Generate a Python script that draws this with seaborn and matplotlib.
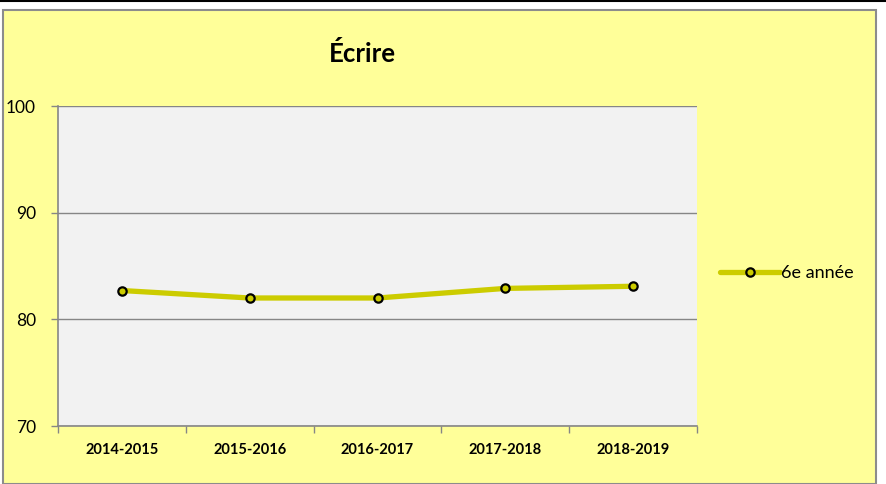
import matplotlib
matplotlib.use("Agg")
import matplotlib.pyplot as plt
import matplotlib.patches as mpatches
import matplotlib.lines as mlines
import seaborn as sns
import pandas as pd

# ===================== Data =====================
years = ["2014-2015", "2015-2016", "2016-2017", "2017-2018", "2018-2019"]
scores_6e = [82.7, 82.0, 82.0, 82.9, 83.1]
series_name = "6e année"
title = "Écrire"

df = pd.DataFrame({"annee": years, "score": scores_6e, "serie": series_name})

# ===================== Style =====================
sns.set_theme(style="white")
plt.rcParams["font.family"] = ["Lato", "DejaVu Sans"]
plt.rcParams["text.color"] = "black"
plt.rcParams["xtick.color"] = "black"
plt.rcParams["ytick.color"] = "black"

YELLOW_BG = "#FFFF99"
PLOT_BG = "#F2F2F2"
LINE_COL = "#CCCC00"
GRID_COL = "#868686"

fig = plt.figure(figsize=(8.86, 4.84), dpi=100)
fig.patch.set_facecolor("white")

# chart frame (yellow area with grey border) and the black line on top
fig.patches.append(mpatches.Rectangle((3 / 886, 0), 873 / 886, 1 - 10 / 484,
                                      transform=fig.transFigure, facecolor=YELLOW_BG,
                                      edgecolor="#8C8C8C", linewidth=1.5, zorder=-5))
fig.lines.append(mlines.Line2D([0, 1], [1 - 1 / 484, 1 - 1 / 484], transform=fig.transFigure,
                               color="black", linewidth=1.5))

ax = fig.add_axes([58 / 886, 58 / 484, 639 / 886, 320 / 484])
ax.set_zorder(2)
ax.set_facecolor(PLOT_BG)

sns.lineplot(data=df, x="annee", y="score", ax=ax, color=LINE_COL, linewidth=3.8,
             marker="o", markersize=6, markerfacecolor=LINE_COL,
             markeredgecolor="black", markeredgewidth=1.6,
             sort=False, legend=False)

# ===================== Axes =====================
ax.set_ylim(70, 100)
ax.set_yticks([70, 80, 90, 100])
ax.set_xlim(-0.5, len(years) - 0.5)
ax.set_xticks(range(len(years)))
ax.set_xticklabels(years, fontweight="bold", fontsize=10.5)
ax.set_xticks([i - 0.5 for i in range(len(years) + 1)], minor=True)
ax.tick_params(axis="x", which="both", bottom=True)
ax.tick_params(axis="x", which="major", length=0, pad=12)
ax.tick_params(axis="x", which="minor", length=5, color=GRID_COL, width=1)
ax.tick_params(axis="y", left=True, length=5, color=GRID_COL, width=1, labelsize=12.5,
               pad=11, labelcolor="black")
ax.set_xlabel("")
ax.set_ylabel("")
ax.yaxis.grid(True, color=GRID_COL, linewidth=1)
ax.set_axisbelow(True)
for side in ["top", "right"]:
    ax.spines[side].set_visible(False)
for side in ["left", "bottom"]:
    ax.spines[side].set_color(GRID_COL)
    ax.spines[side].set_linewidth(1.2)

fig.text(362 / 886, 1 - 53 / 484, title, ha="center", va="center",
         fontsize=18.5, fontweight="bold")

handle = mlines.Line2D([], [], color=LINE_COL, linewidth=3.8, marker="o", markersize=6,
                       markerfacecolor=LINE_COL, markeredgecolor="black", markeredgewidth=1.6)
fig.legend([handle], [series_name], loc="center left",
           bbox_to_anchor=(720 / 886, 1 - 273 / 484), frameon=False, fontsize=13,
           handlelength=3.3, handletextpad=0.1, borderaxespad=0, borderpad=0)

fig.savefig("out.png", dpi=100, facecolor=fig.get_facecolor())
